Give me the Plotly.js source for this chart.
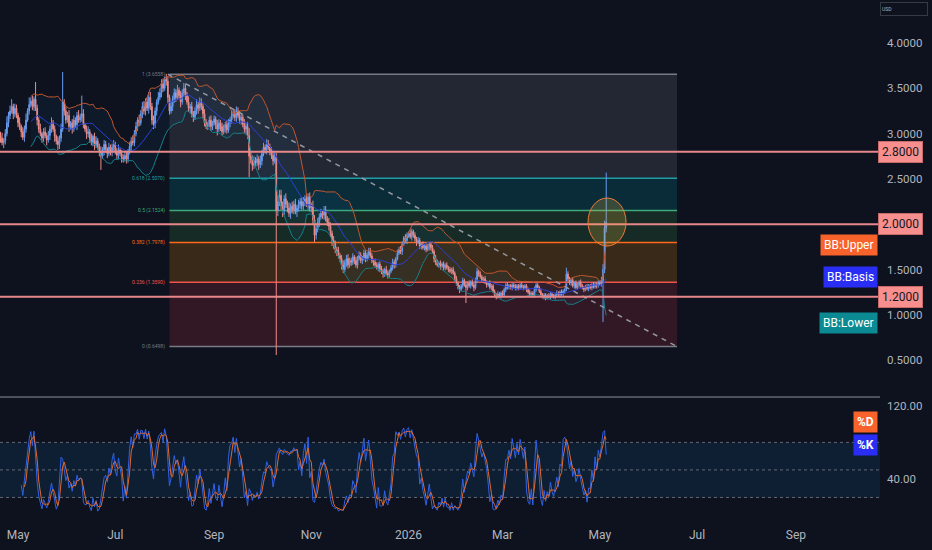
<!DOCTYPE html>
<html><head><meta charset="utf-8">
<script src="https://cdn.plot.ly/plotly-3.0.1.min.js"></script>
<style>html,body{margin:0;padding:0;background:#0d121e;}#chart{width:932px;height:550px;}</style>
</head><body><div id="chart"></div>
<script>
// ---------- data (daily candles from 2025-04-20) ----------
const startDate = [2025, 3, 20];
const closes = [
2.95,2.90,2.92,3.00,3.12,3.20,3.25,3.30,3.22,3.28,
3.20,3.12,3.08,3.02,2.96,3.05,3.15,3.25,3.32,3.36,
3.30,3.38,3.28,3.15,3.05,3.00,2.95,3.02,2.98,2.93,
2.98,3.05,3.12,3.05,2.97,2.92,2.88,2.95,3.05,3.35,
3.25,3.15,3.20,3.08,3.12,3.05,3.15,3.10,3.20,3.15,
3.18,3.22,3.10,3.05,3.00,3.02,2.95,2.90,2.97,2.88,
2.92,2.85,2.80,2.75,2.82,2.88,2.83,2.78,2.85,2.80,
2.85,2.88,2.80,2.76,2.82,2.78,2.74,2.72,2.76,2.72,
2.80,2.86,2.92,2.90,3.00,3.08,3.15,3.12,3.22,3.30,
3.25,3.35,3.28,3.40,3.30,3.15,3.10,3.25,3.35,3.40,
3.45,3.55,3.50,3.60,3.58,3.40,3.25,3.30,3.38,3.45,
3.40,3.48,3.42,3.35,3.45,3.50,3.42,3.35,3.28,3.30,
3.22,3.18,3.25,3.32,3.28,3.35,3.30,3.22,3.12,3.08,
3.10,3.15,3.08,3.12,3.16,3.10,3.05,3.12,3.08,3.02,
3.06,3.10,3.04,3.12,3.15,3.20,3.22,3.18,3.25,3.20,
3.15,3.18,3.10,3.05,3.08,2.98,2.75,2.72,2.65,2.70,
2.68,2.72,2.66,2.70,2.78,2.85,2.82,2.88,2.85,2.80,
2.76,2.70,2.74,2.15,2.25,2.32,2.20,2.15,2.28,2.22,
2.18,2.12,2.20,2.16,2.22,2.14,2.18,2.22,2.25,2.20,
2.25,2.28,2.22,2.30,2.18,2.20,2.05,1.88,1.95,2.02,
2.08,2.12,2.10,2.14,2.06,2.02,1.98,1.90,1.82,1.78,
1.72,1.70,1.65,1.62,1.55,1.50,1.58,1.62,1.55,1.60,
1.58,1.64,1.60,1.55,1.62,1.66,1.60,1.63,1.68,1.62,
1.66,1.70,1.65,1.60,1.58,1.55,1.52,1.56,1.50,1.48,
1.45,1.50,1.46,1.44,1.48,1.52,1.58,1.55,1.62,1.68,
1.72,1.70,1.78,1.85,1.82,1.88,1.90,1.86,1.92,1.88,
1.84,1.80,1.82,1.76,1.78,1.74,1.76,1.72,1.75,1.78,
1.74,1.70,1.62,1.58,1.55,1.57,1.54,1.56,1.52,1.55,
1.52,1.50,1.48,1.50,1.46,1.40,1.35,1.30,1.28,1.32,
1.38,1.33,1.30,1.35,1.32,1.36,1.33,1.30,1.38,1.48,
1.45,1.42,1.38,1.40,1.36,1.33,1.35,1.30,1.32,1.26,
1.22,1.20,1.23,1.21,1.24,1.22,1.28,1.33,1.30,1.32,
1.30,1.33,1.31,1.29,1.32,1.30,1.33,1.31,1.30,1.32,
1.28,1.25,1.22,1.24,1.21,1.28,1.33,1.30,1.26,1.22,
1.20,1.22,1.19,1.21,1.20,1.23,1.21,1.20,1.22,1.24,
1.22,1.25,1.23,1.26,1.28,1.45,1.40,1.35,1.38,1.32,
1.35,1.30,1.33,1.36,1.32,1.30,1.28,1.31,1.29,1.32,
1.30,1.33,1.31,1.34,1.32,1.35,1.34,1.38,1.50,1.96,2.02
];
const firstOpen = 2.98;
// estimated wick lengths above / below each body, in hundredths of a dollar
const upWick = [
4,6,3,5,7,4,6,8,3,5, 4,3,6,2,5,4,7,3,5,4, 6,3,5,4,3,6,2,4,5,3, 5,4,6,3,4,2,5,3,6,4,
3,5,4,6,2,4,5,3,4,6, 4,3,5,2,4,6,3,5,2,4, 5,3,4,6,3,5,4,2,5,3, 4,5,3,4,6,2,4,3,5,4,
3,5,4,6,4,5,3,6,4,5, 6,4,5,3,6,4,5,4,3,6, 5,4,6,3,4,5,3,6,4,5, 4,6,3,5,4,3,5,4,6,3,
5,3,4,6,3,5,4,3,5,4, 3,4,5,2,4,3,5,4,3,4, 4,3,5,4,3,6,4,5,3,4, 5,4,3,6,4,5,8,6,4,5,
4,5,3,6,4,5,3,4,5,4, 5,4,6,5,7,4,6,5,4,6, 4,6,3,5,4,6,3,5,4,5, 5,4,6,3,5,4,6,5,4,5,
4,5,3,4,6,3,5,4,3,5, 4,3,5,3,4,5,3,4,5,3, 3,4,2,4,3,4,3,2,4,3, 3,2,4,3,2,4,3,2,3,4,
3,2,4,3,2,3,4,3,2,4, 3,4,3,2,4,3,2,4,3,2, 3,2,4,3,2,3,2,4,3,2, 2,3,2,4,3,2,3,2,3,2,
3,2,3,2,3,2,3,2,3,2, 3,2,4,2,3,2,3,2,3,3, 2,3,2,2,3,2,2,3,2,2, 2,2,3,2,2,3,2,2,3,2,
2,2,2,3,2,2,2,3,2,2, 2,2,3,2,2,3,2,2,2,3, 2,2,2,2,3,2,2,2,2,3, 2,2,3,2,2,4,3,2,2,3,
2,3,2,2,3,2,2,2,3,2, 2,2,3,2,2,3,2,4,6,8,0
];
const loWick = [
5,3,6,4,3,5,4,3,6,4, 3,5,4,6,3,5,4,2,4,3, 4,5,3,6,4,3,5,4,3,6, 3,5,4,3,6,4,3,5,4,3,
5,4,3,6,4,5,3,4,6,3, 3,5,4,3,6,4,5,3,4,6, 4,3,5,4,3,6,4,5,3,4, 5,4,3,5,4,3,6,4,3,5,
4,3,5,3,4,3,5,4,3,5, 4,5,3,6,4,5,3,4,5,3, 3,5,4,3,5,6,4,3,5,4, 5,3,4,6,3,4,5,3,4,5,
4,5,3,4,6,3,4,5,4,3, 4,3,5,4,3,5,4,3,5,4, 3,5,4,3,5,4,3,4,5,3, 4,5,3,4,5,4,6,5,6,4,
5,4,6,4,5,3,4,5,3,4, 4,5,3,0,6,5,4,6,5,4, 5,4,6,4,5,3,6,4,5,4, 4,5,3,6,4,5,6,7,5,4,
5,3,4,5,3,4,5,4,6,5, 4,5,3,4,5,4,3,5,4,3, 4,3,4,3,4,2,3,4,3,4, 3,4,2,3,4,3,2,4,3,3,
4,3,2,4,3,2,3,4,3,2, 2,3,4,2,3,4,3,2,4,3, 3,4,2,3,4,2,3,3,2,4, 3,2,4,3,2,3,4,2,3,3,
2,3,2,3,2,4,3,2,3,2, 3,2,0,3,2,3,2,4,2,3, 3,2,2,3,2,3,2,2,3,2, 2,3,2,2,3,2,2,3,2,2,
2,3,2,2,2,3,2,2,3,2, 3,2,2,3,2,2,3,2,2,2, 2,3,2,2,2,3,2,2,3,2, 2,3,2,2,3,2,3,2,3,2,
3,2,2,3,2,2,3,2,2,3, 2,3,2,2,3,2,2,3,0,4,5
];
// notable long wicks (day index -> extreme)
const hiDays = [7,18,22,39,51,93,101,104,115,125,148,167,175,193,203,231,258,299,355,380];
const hiVals = [3.36,3.40,3.57,3.68,3.42,3.46,3.60,3.66,3.56,3.40,3.30,2.94,2.38,2.34,2.20,1.74,1.95,1.52,1.52,2.57];
const loDays = [36,63,77,96,136,156,173,177,197,215,243,288,292,311,342,378];
const loVals = [2.82,2.60,2.68,3.05,2.98,2.52,0.556,2.08,1.80,1.46,1.40,1.24,1.13,1.17,1.16,0.92];

const fibLevels = [1, 0.618, 0.5, 0.382, 0.236, 0];
const fibPrices = [3.6558, 2.5070, 2.1524, 1.7978, 1.3590, 0.6498];
const fibLineColors = ['#787b86','#1f9ea3','#3ea97a','#ff6a1a','#f0524c','#787b86'];
const fibZoneColors = ['rgba(120,123,134,0.2)','rgba(0,150,160,0.2)','rgba(76,175,80,0.16)','rgba(255,152,0,0.18)','rgba(242,54,69,0.16)'];
const fibStart = '2025-08-04', fibEnd = '2026-06-18 10:00', trendStart = '2025-08-03';
const levelPrices = [2.8, 2.0, 1.2];
const priceTicks = [0.5,1.0,1.5,2.5,3.0,3.5,4.0];
const stochTicks = [40,120];
const stochBands = [20,50,80];
const monthTicks = ['2025-05-01','2025-07-01','2025-09-01','2025-11-01','2026-01-01','2026-03-01','2026-05-01','2026-07-01','2026-09-01'];
const monthLabels = ['May','Jul','Sep','Nov','2026','Mar','May','Jul','Sep'];

// ---------- derived series ----------
const n = closes.length;
const dates = closes.map((_, i) => new Date(Date.UTC(startDate[0], startDate[1], startDate[2]) + i * 86400000).toISOString().slice(0, 10));
const opens = closes.map((c, i) => i === 0 ? firstOpen : closes[i - 1]);
const highs = closes.map((c, i) => Math.max(opens[i], c) + upWick[i] / 100);
const lows = closes.map((c, i) => Math.min(opens[i], c) - loWick[i] / 100);
hiDays.forEach((d, j) => { highs[d] = Math.max(highs[d], hiVals[j]); });
loDays.forEach((d, j) => { lows[d] = Math.min(lows[d], loVals[j]); });

// Bollinger Bands (20, 2)
const bbX = [], bbU = [], bbB = [], bbL = [];
for (let i = 19; i < n; i++) {
  const w = closes.slice(i - 19, i + 1);
  const m = w.reduce((a, b) => a + b, 0) / 20;
  const sd = Math.sqrt(w.reduce((a, b) => a + (b - m) * (b - m), 0) / 20);
  bbX.push(dates[i]); bbU.push(m + 2 * sd); bbB.push(m); bbL.push(m - 2 * sd);
}
// Stochastic (14, 1, 3)
const kX = [], kV = [];
for (let i = 13; i < n; i++) {
  const hh = Math.max(...highs.slice(i - 13, i + 1));
  const ll = Math.min(...lows.slice(i - 13, i + 1));
  kX.push(dates[i]); kV.push(100 * (closes[i] - ll) / (hh - ll));
}
const dX = [], dV = [];
for (let j = 2; j < kV.length; j++) { dX.push(kX[j]); dV.push((kV[j] + kV[j - 1] + kV[j - 2]) / 3); }

// ---------- traces ----------
const traces = [
  {x: bbX, y: bbU, type: 'scatter', mode: 'lines', line: {color: '#c2562e', width: 1}, hoverinfo: 'skip'},
  {x: bbX, y: bbL, type: 'scatter', mode: 'lines', line: {color: '#14808a', width: 1}, fill: 'tonexty', fillcolor: 'rgba(33,150,243,0.06)', hoverinfo: 'skip'},
  {x: bbX, y: bbB, type: 'scatter', mode: 'lines', line: {color: '#2b3fd4', width: 1}, hoverinfo: 'skip'},
  {x: dates, open: opens, high: highs, low: lows, close: closes, type: 'candlestick',
   increasing: {line: {color: '#6a9cf0', width: 1}, fillcolor: '#6a9cf0'},
   decreasing: {line: {color: '#f28b86', width: 1}, fillcolor: '#f28b86'}, whiskerwidth: 0, hoverinfo: 'skip'},
  {x: [trendStart, fibEnd], y: [fibPrices[0], fibPrices[5]], type: 'scatter', mode: 'lines', line: {color: '#9598a1', width: 1.5, dash: '5px,5px'}, hoverinfo: 'skip'},
  {x: kX, y: kV, xaxis: 'x', yaxis: 'y2', type: 'scatter', mode: 'lines', line: {color: '#2f62e8', width: 1}, hoverinfo: 'skip'},
  {x: dX, y: dV, xaxis: 'x', yaxis: 'y2', type: 'scatter', mode: 'lines', line: {color: '#e0692c', width: 1}, hoverinfo: 'skip'}
];

// ---------- shapes ----------
const shapes = [];
for (let i = 0; i < 5; i++) {
  shapes.push({type: 'rect', xref: 'x', yref: 'y', x0: fibStart, x1: fibEnd, y0: fibPrices[i + 1], y1: fibPrices[i], fillcolor: fibZoneColors[i], line: {width: 0}, layer: 'below'});
}
fibPrices.forEach((p, i) => shapes.push({type: 'line', xref: 'x', yref: 'y', x0: fibStart, x1: fibEnd, y0: p, y1: p, line: {color: fibLineColors[i], width: 1.5}, layer: 'below'}));
levelPrices.forEach(p => shapes.push({type: 'line', xref: 'paper', yref: 'y', x0: 0, x1: 1, y0: p, y1: p, line: {color: '#e8878a', width: 2}}));
shapes.push({type: 'circle', xref: 'x', yref: 'y', x0: '2026-04-23 14:00', x1: '2026-05-17 10:00', y0: 1.759, y1: 2.289, fillcolor: 'rgba(230,180,60,0.22)', line: {color: '#f07a3a', width: 1}});
shapes.push({type: 'rect', xref: 'paper', yref: 'y2', x0: 0, x1: 1, y0: stochBands[0], y1: stochBands[2], fillcolor: 'rgba(33,150,243,0.1)', line: {width: 0}, layer: 'below'});
stochBands.forEach(v => shapes.push({type: 'line', xref: 'paper', yref: 'y2', x0: 0, x1: 1, y0: v, y1: v, line: {color: 'rgba(120,123,134,0.8)', width: 1, dash: '3px,3px'}, layer: 'below'}));
shapes.push({type: 'line', xref: 'paper', yref: 'paper', x0: 0, x1: 1, y0: 0.2365, y1: 0.2365, line: {color: '#8c8f99', width: 1}});

// ---------- annotations ----------
const ann = [];
fibLevels.forEach((lv, i) => ann.push({xref: 'x', yref: 'y', x: fibStart, y: fibPrices[i], xanchor: 'right', yanchor: 'middle', xshift: -2, showarrow: false,
  text: lv + ' (' + fibPrices[i].toFixed(4) + ')', font: {family: 'Roboto', size: 5, color: fibLineColors[i]}}));
levelPrices.forEach(p => ann.push({xref: 'paper', yref: 'y', x: 0.9977, y: p, xanchor: 'left', yanchor: 'middle', showarrow: false,
  text: p.toFixed(4), bgcolor: '#f78f8f', bordercolor: '#c96a6a', borderwidth: 1, borderpad: 3, font: {family: 'Roboto', size: 12, color: '#131722'}}));
const bbLabels = [['BB:Upper', 1.776, '#f7632a'], ['BB:Basis', 1.412, '#2a2ef5'], ['BB:Lower', 0.915, '#0b8a93']];
bbLabels.forEach(b => ann.push({xref: 'paper', yref: 'y', x: 0.9977, y: b[1], xanchor: 'right', yanchor: 'middle', showarrow: false,
  text: b[0], bgcolor: b[2], borderpad: 3, font: {family: 'Roboto', size: 12, color: '#ffffff'}}));
const stLabels = [['%D', 101.7, '#f7632a'], ['%K', 77.1, '#2a2ef5']];
stLabels.forEach(b => ann.push({xref: 'paper', yref: 'y2', x: 0.9977, y: b[1], xanchor: 'right', yanchor: 'middle', showarrow: false,
  text: '<b>' + b[0] + '</b>', bgcolor: b[2], borderpad: 3, font: {family: 'Roboto', size: 12, color: '#ffffff'}}));
ann.push({xref: 'paper', yref: 'paper', x: 0.9995, y: 0.9827, xanchor: 'left', yanchor: 'middle', showarrow: false, text: 'USD', align: 'left',
  width: 44, height: 10, bgcolor: '#0d121e', bordercolor: '#363a45', borderwidth: 1, borderpad: 1, font: {family: 'Roboto', size: 5, color: '#b2b5be'}});

const axisFont = {family: 'Roboto', size: 11.5, color: '#b2b5be'};
const layout = {
  width: 932, height: 550, margin: {l: 0, r: 52, t: 0, b: 30},
  paper_bgcolor: '#0d121e', plot_bgcolor: '#0d121e', showlegend: false, hovermode: false,
  xaxis: {type: 'date', range: ['2025-04-19 16:28', '2026-10-23 18:14'], anchor: 'y2', tickvals: monthTicks, ticktext: monthLabels,
    showgrid: false, zeroline: false, showline: false, ticks: '', tickfont: Object.assign({}, axisFont, {size: 12}), ticklabelstandoff: 6,
    rangeslider: {visible: false}, fixedrange: true},
  yaxis: {domain: [0.2404, 1], range: [0.115, 4.475], side: 'right', anchor: 'x', tickvals: priceTicks, tickformat: '.4f',
    showgrid: false, zeroline: false, showline: false, ticks: '', tickfont: axisFont, ticklabelstandoff: 6, fixedrange: true},
  yaxis2: {domain: [0, 0.2346], range: [-4.6, 128.4], side: 'right', anchor: 'x', tickvals: stochTicks, tickformat: '.2f',
    showgrid: false, zeroline: false, showline: false, ticks: '', tickfont: axisFont, ticklabelstandoff: 6, fixedrange: true},
  shapes: shapes, annotations: ann
};
Plotly.newPlot('chart', traces, layout, {displayModeBar: false, staticPlot: true});
</script></body></html>
